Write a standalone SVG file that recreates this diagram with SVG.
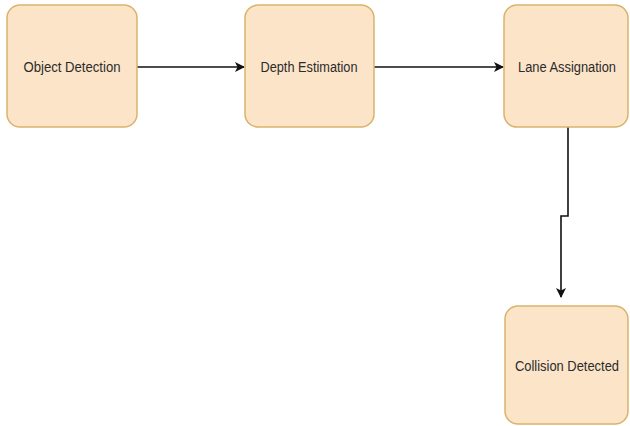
<svg xmlns="http://www.w3.org/2000/svg" width="630" height="426" viewBox="0 0 630 426">
  <defs>
    <style>
      .box { fill: #fce4c9; stroke: #d8b46a; stroke-width: 1.5; }
      .lbl { font-family: "Liberation Sans", Arial, sans-serif; font-size: 14px; fill: #2b2b2b; text-anchor: middle; }
      .edge { fill: none; stroke: #111; stroke-width: 1.6; }
    </style>
    <marker id="arrow" viewBox="0 0 10 10" refX="9" refY="5" markerWidth="10" markerHeight="10" markerUnits="userSpaceOnUse" orient="auto">
      <path d="M0,0 L10,5 L0,10 L2.5,5 Z" fill="#111"/>
    </marker>
  </defs>
  <rect width="630" height="426" fill="#ffffff"/>

  <g id="edges">
    <path class="edge" d="M137,67 L244,67" marker-end="url(#arrow)"/>
    <path class="edge" d="M374,67 L503,67" marker-end="url(#arrow)"/>
    <path class="edge" d="M568,127 L568,216 L561,216 L561,297" marker-end="url(#arrow)"/>
  </g>

  <g id="object-detection">
    <rect class="box" x="7" y="5" width="130" height="122" rx="13"/>
    <text class="lbl" x="72" y="72" textLength="97" lengthAdjust="spacingAndGlyphs">Object Detection</text>
  </g>
  <g id="depth-estimation">
    <rect class="box" x="245" y="5" width="129" height="122" rx="13"/>
    <text class="lbl" x="309" y="72" textLength="97" lengthAdjust="spacingAndGlyphs">Depth Estimation</text>
  </g>
  <g id="lane-assignation">
    <rect class="box" x="504" y="5" width="124" height="122" rx="13"/>
    <text class="lbl" x="567" y="72" textLength="98" lengthAdjust="spacingAndGlyphs">Lane Assignation</text>
  </g>
  <g id="collision-detected">
    <rect class="box" x="505" y="306" width="123" height="118" rx="13"/>
    <text class="lbl" x="567" y="371" textLength="104" lengthAdjust="spacingAndGlyphs">Collision Detected</text>
  </g>
</svg>
